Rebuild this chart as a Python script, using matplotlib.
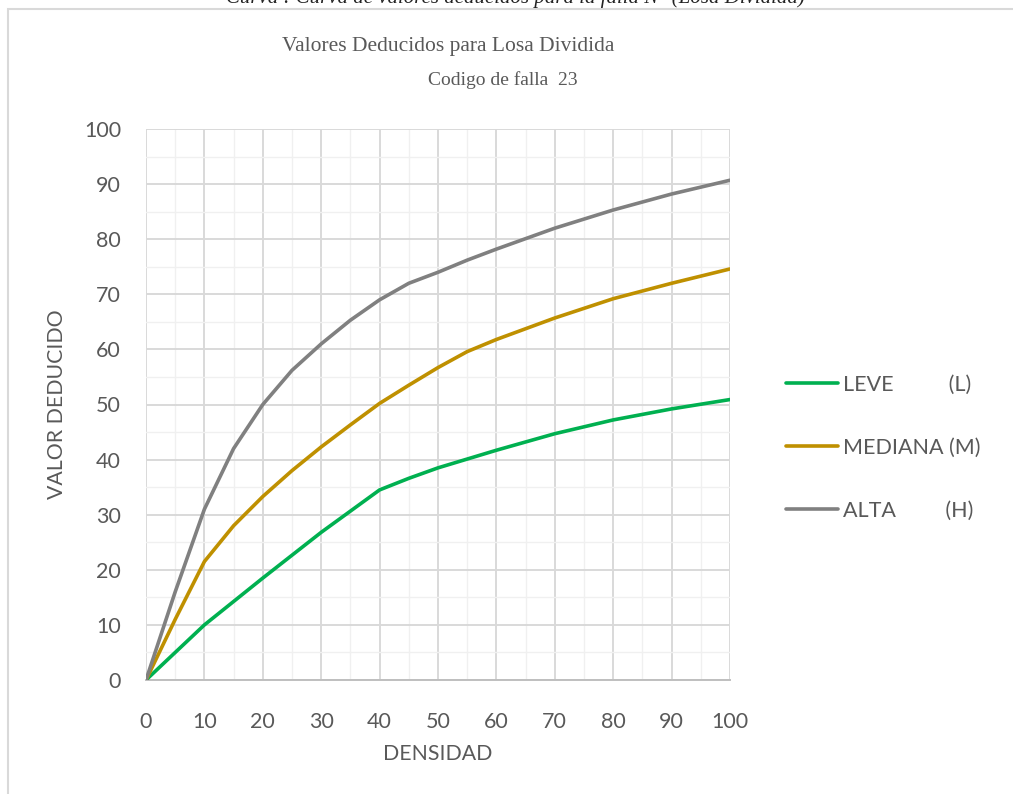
import matplotlib
matplotlib.use("Agg")
import matplotlib.pyplot as plt
from matplotlib.patches import Rectangle
from matplotlib.ticker import MultipleLocator

# Densidad (%) y valores deducidos por nivel de severidad
densidad_l = [0, 10, 20, 30, 40, 45, 50, 60, 70, 80, 90, 100]
leve = [0, 10.0, 18.5, 26.8, 34.5, 36.6, 38.5, 41.7, 44.7, 47.2, 49.2, 50.9]

densidad_m = [0, 5, 10, 15, 20, 25, 30, 35, 40, 45, 50, 55, 60, 70, 80, 90, 100]
mediana = [0, 11.0, 21.5, 28.0, 33.3, 38.0, 42.3, 46.3, 50.2, 53.5, 56.7, 59.6,
           61.8, 65.7, 69.2, 72.0, 74.6]

densidad_h = [0, 5, 10, 15, 20, 25, 30, 35, 40, 45, 50, 55, 60, 70, 80, 90, 100]
alta = [0, 16.0, 31.0, 42.0, 50.0, 56.2, 61.0, 65.3, 69.0, 72.0, 74.0, 76.2,
        78.2, 82.0, 85.3, 88.2, 90.7]

series_labels = ["LEVE          (L)", "MEDIANA (M)", "ALTA         (H)"]
series_colors = ["#00B050", "#BF9000", "#808080"]

titulo = "Valores Deducidos para Losa Dividida"
subtitulo = "Codigo de falla  23"
leyenda_fig = "Curva : Curva de valores deducidos para la falla N° (Losa Dividida)"

W, H = 1013, 794
fig = plt.figure(figsize=(W / 100, H / 100), dpi=100)
fig.patch.set_facecolor("white")

# marco del gráfico
fig.patches.append(Rectangle((8 / W, -0.1), 1.2, 1 - 9 / H + 0.1,
                             transform=fig.transFigure, fill=False,
                             edgecolor="#d9d9d9", linewidth=1.5, zorder=0))

fig.text(515 / W, 1 - 3 / H, leyenda_fig, ha="center", va="baseline",
         fontsize=15, family="Liberation Serif", style="italic", color="#222222")

ax = fig.add_axes([146 / W, 1 - 680 / H, (730 - 146) / W, (680 - 129) / H])

for x, y, lab, col in zip([densidad_l, densidad_m, densidad_h],
                          [leve, mediana, alta], series_labels, series_colors):
    ax.plot(x, y, color=col, linewidth=2.6, label=lab, solid_capstyle="round",
            solid_joinstyle="round", zorder=3)

ax.set_xlim(0, 100)
ax.set_ylim(0, 100)
ax.xaxis.set_major_locator(MultipleLocator(10))
ax.yaxis.set_major_locator(MultipleLocator(10))
ax.xaxis.set_minor_locator(MultipleLocator(5))
ax.yaxis.set_minor_locator(MultipleLocator(5))
ax.grid(which="major", color="#d9d9d9", linewidth=1.4, zorder=1)
ax.grid(which="minor", color="#f0f0f0", linewidth=1.0, zorder=0)
ax.set_axisbelow(True)
for s in ["top", "right", "left"]:
    ax.spines[s].set_visible(False)
ax.spines["bottom"].set_color("#bfbfbf")
ax.spines["bottom"].set_linewidth(1.4)

ax.tick_params(which="both", length=0)
ax.tick_params(axis="x", pad=23, labelsize=15.5, labelcolor="#595959")
ax.tick_params(axis="y", pad=18, labelsize=15.5, labelcolor="#595959")
for lbl in ax.get_xticklabels() + ax.get_yticklabels():
    lbl.set_family("Lato")

ax.set_xlabel("DENSIDAD", fontsize=15.3, family="Lato", color="#595959",
              labelpad=9)
ax.set_ylabel("VALOR DEDUCIDO", fontsize=15.3, family="Lato", color="#595959",
              labelpad=12)

fig.text(448 / W, 1 - 47 / H, titulo, ha="center", va="center",
         fontsize=15.5, family="Liberation Serif", color="#595959")
fig.text(503 / W, 1 - 80 / H, subtitulo, ha="center", va="center",
         fontsize=14, family="Liberation Serif", color="#595959")

leg = fig.legend(loc="upper left", bbox_to_anchor=(767 / W, 1 - 355 / H),
                 frameon=False, handlelength=2.4, handletextpad=0.22,
                 labelspacing=2.0, prop={"family": "Lato", "size": 15.5})
for t in leg.get_texts():
    t.set_color("#595959")

fig.savefig("out.png", dpi=100, facecolor="white")
